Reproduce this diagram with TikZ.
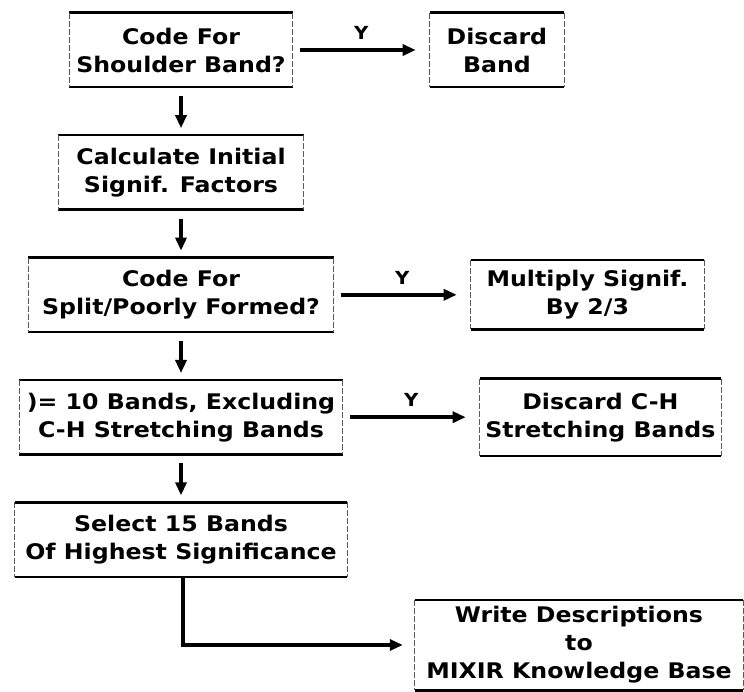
\documentclass[tikz,border=0pt]{standalone}
\usepackage{fontspec}
\setmainfont{DejaVu Sans}[FakeStretch=1.1]
\usetikzlibrary{positioning,arrows.meta,calc}

\begin{document}
\begin{tikzpicture}[x=1pt, y=-1pt, >={Triangle[length=13pt,width=11pt]},
          node distance=48pt and 137pt,
          stepbox/.style={minimum height=74pt, font=\fontsize{21.5}{28}\selectfont\bfseries, align=center, inner sep=2pt},
          rim/.style={line width=2.6pt},
          side/.style={line width=0.7pt, black!65, dash pattern=on 6pt off 2pt},
          flow/.style={->, line width=3.8pt, shorten <=7pt, shorten >=14pt},
          down/.style={->, line width=3.2pt, shorten <=9pt, shorten >=7pt},
          yes/.style={above=5pt, font=\fontsize{18}{20}\selectfont\bfseries}]
        \useasboundingbox (0,0) rectangle (744,692);
        % main column
        \node[stepbox, minimum width=223pt] (shoulder) at (181,50) {Code For\\Shoulder Band?};
        \node[stepbox, minimum width=245pt, below=of shoulder] (initial) {Calculate Initial\\Signif. Factors};
        \node[stepbox, minimum width=305pt, below=of initial] (split) {Code For\\Split/Poorly Formed?};
        \node[stepbox, minimum width=323pt, below=of split] (excl) {)= 10 Bands, Excluding\\C-H Stretching Bands};
        \node[stepbox, minimum width=332pt, below=of excl] (select) {Select 15 Bands\\Of Highest Significance};
        % actions on the right
        \node[stepbox, minimum width=134pt, right=of shoulder] (discard) {Discard\\Band};
        \node[stepbox, minimum width=233pt, minimum height=69pt, right=of split] (multiply) {Multiply Signif.\\By 2/3};
        \node[stepbox, minimum width=241pt, minimum height=77pt, right=of excl] (discardch) {Discard C-H\\Stretching Bands};
        \node[stepbox, minimum width=328pt, minimum height=90pt] (write) at (579,645) {Write Descriptions\\to\\MIXIR Knowledge Base};
        % heavy top and bottom rims, faint sides
        \foreach \b in {shoulder,initial,split,excl,select,discard,multiply,discardch,write} {
          \draw[rim] (\b.north west) -- (\b.north east) (\b.south west) -- (\b.south east);
          \draw[side] (\b.north west) -- (\b.south west) (\b.north east) -- (\b.south east);
        }
        \draw[down] (shoulder) -- (initial);
        \draw[down] (initial) -- (split);
        \draw[down] (split) -- (excl);
        \draw[down] (excl) -- (select);
        \draw[flow] (shoulder) -- (discard) node[midway, yes] {Y};
        \draw[flow] (split) -- (multiply) node[midway, yes] {Y};
        \draw[flow] (excl) -- (discardch) node[midway, yes] {Y};
        \draw[->, line width=3.2pt, shorten >=12pt] ($(select.south)+(2,0)$) |- (write.west);
      \end{tikzpicture}
\end{document}
